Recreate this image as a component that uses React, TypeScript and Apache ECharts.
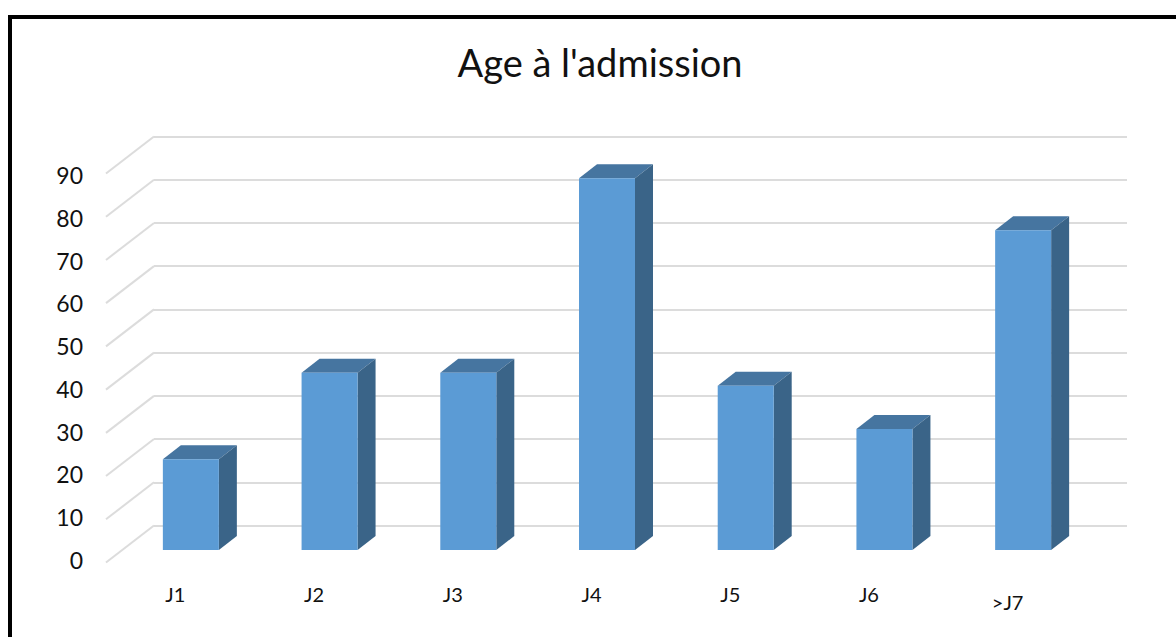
import React, { useEffect, useRef } from "react";
import * as echarts from "echarts";

const categories = ["J1", "J2", "J3", "J4", "J5", "J6", ">J7"];
const admissions = [21, 41, 41, 86, 38, 28, 74];
const gridTicks = [0, 10, 20, 30, 40, 50, 60, 70, 80, 90];

const FONT = "Lato, 'Open Sans', sans-serif";
const FRONT = "#5B9BD5";
const TOP = "#4675A0";
const SIDE = "#3A6488";
const GRID = "#DCDCDC";

// Receding floor depth of the wall, and of each column
const WALL_DX = -48;
const WALL_DY = 37;
const BAR_DX = 18;
const BAR_DY = -14;
const BAR_WIDTH = 56;

const hiddenAxis = { axisLine: { show: false }, axisTick: { show: false }, axisLabel: { show: false } };

export default function App() {
  const ref = useRef<HTMLDivElement>(null);

  useEffect(() => {
    const chart = echarts.init(ref.current!, undefined, { renderer: "svg" });

    const renderColumn = (_params: any, api: any) => {
      const i = api.value(0);
      const [cx, top] = api.coord([i, api.value(1)]);
      const [, base] = api.coord([i, 0]);
      const l = cx - BAR_WIDTH / 2;
      const r = cx + BAR_WIDTH / 2;
      return {
        type: "group",
        children: [
          {
            type: "polygon",
            shape: { points: [[l, top], [l + BAR_DX, top + BAR_DY], [r + BAR_DX, top + BAR_DY], [r, top]] },
            style: { fill: TOP },
          },
          {
            type: "polygon",
            shape: { points: [[r, top], [r + BAR_DX, top + BAR_DY], [r + BAR_DX, base + BAR_DY], [r, base]] },
            style: { fill: SIDE },
          },
          { type: "rect", shape: { x: l, y: top, width: BAR_WIDTH, height: base - top }, style: { fill: FRONT } },
        ],
      };
    };

    const renderWallEdge = (params: any, api: any) => {
      const x = params.coordSys.x;
      const [, y] = api.coord([0, api.value(0)]);
      return {
        type: "line",
        shape: { x1: x, y1: y, x2: x + WALL_DX, y2: y + WALL_DY },
        style: { stroke: GRID, lineWidth: 2 },
      };
    };

    chart.setOption({
      animation: false,
      backgroundColor: "#FFFFFF",
      title: {
        text: "Age à l'admission",
        left: 595,
        top: 38,
        textAlign: "center",
        textStyle: { fontFamily: FONT, fontSize: 38, fontWeight: "normal", color: "#111111" },
      },
      grid: [
        { left: 154, top: 136.5, width: 973, height: 389 },
        { left: 106, top: 175, width: 971, height: 385 },
        { left: 121.5, top: 161, width: 971, height: 389 },
      ],
      xAxis: [
        { gridIndex: 0, type: "category", data: categories, ...hiddenAxis },
        {
          gridIndex: 1,
          type: "category",
          data: categories.map((c) =>
            c.startsWith(">") ? { value: c, textStyle: { padding: [8, 0, 0, 0] } } : c
          ),
          axisLine: { show: false },
          axisTick: { show: false },
          axisLabel: { margin: 24, fontFamily: FONT, fontSize: 20, color: "#111111", interval: 0 },
        },
        { gridIndex: 2, type: "category", data: categories, ...hiddenAxis },
      ],
      yAxis: [
        {
          gridIndex: 0,
          type: "value",
          min: 0,
          max: 90,
          interval: 10,
          ...hiddenAxis,
          splitLine: { show: true, lineStyle: { color: GRID, width: 2 } },
        },
        {
          gridIndex: 1,
          type: "value",
          min: 0,
          max: 90,
          interval: 10,
          axisLine: { show: false },
          axisTick: { show: false },
          splitLine: { show: false },
          axisLabel: { margin: 23, fontFamily: FONT, fontSize: 23, color: "#111111" },
        },
        { gridIndex: 2, type: "value", min: 0, max: 90, interval: 10, ...hiddenAxis, splitLine: { show: false } },
      ],
      graphic: [
        { type: "rect", shape: { x: 8, y: 15, width: 1168, height: 4 }, style: { fill: "#000000" } },
        { type: "rect", shape: { x: 8, y: 15, width: 4, height: 622 }, style: { fill: "#000000" } },
      ],
      series: [
        {
          type: "custom",
          xAxisIndex: 0,
          yAxisIndex: 0,
          data: gridTicks.map((v) => [v]),
          encode: { y: 0 },
          renderItem: renderWallEdge,
          clip: false,
          silent: true,
        },
        {
          type: "custom",
          xAxisIndex: 2,
          yAxisIndex: 2,
          data: admissions.map((v, i) => [i, v]),
          encode: { x: 0, y: 1 },
          renderItem: renderColumn,
          clip: false,
          z: 5,
        },
      ],
    });

    return () => chart.dispose();
  }, []);

  return <div ref={ref} style={{ position: "absolute", left: 0, top: 0, width: 1176, height: 637 }} />;
}
